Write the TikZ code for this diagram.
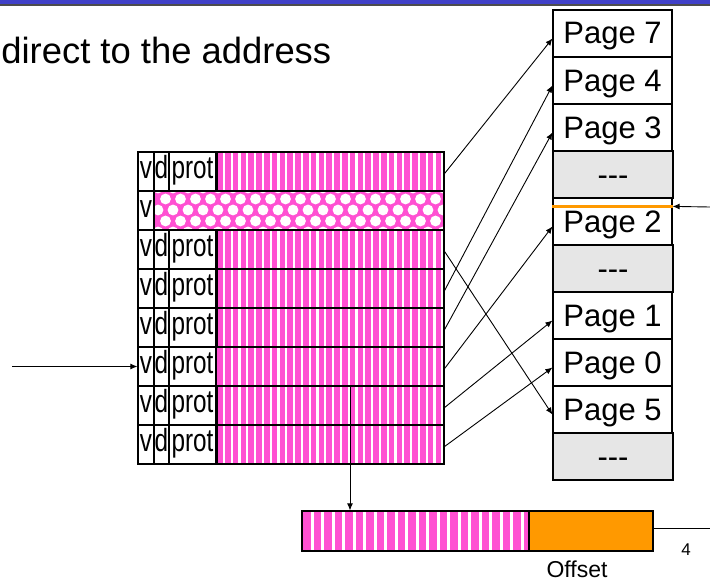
\documentclass[tikz,border=0pt]{standalone}
\usepackage{fontspec}
\setmainfont{Liberation Sans}
\newfontfamily\narrowfont[FakeStretch=0.76]{Liberation Sans}
\usetikzlibrary{calc,arrows.meta}
\definecolor{pagepink}{RGB}{255, 80, 210}
\definecolor{offorange}{RGB}{255, 153, 0}
\definecolor{freegray}{RGB}{230, 230, 230}
\definecolor{barblue}{RGB}{64, 64, 200}

\begin{document}
\begin{tikzpicture}[x=0.5pt, y=-0.5pt,
    cell/.style={draw, line width=0.6pt, minimum height=19.5pt, inner sep=0pt, text height=11.5pt, text depth=4.5pt, font=\narrowfont\fontsize{16}{16}\selectfont},
    stripes/.style 2 args={path picture={
        \foreach \s in {0,#1,...,120}
          \fill[pagepink] ($(path picture bounding box.south west)+(\s pt+0.6pt,-1pt)$) rectangle ++(#2,40pt);}},
    holes/.style={fill=pagepink, path picture={
        \foreach \r [evaluate=\r as \sh using {mod(\r,2)*3.75}] in {0,...,4}
          \foreach \c in {0,...,20}
            \fill[white] ($(path picture bounding box.south west)+(\c*7.5pt+\sh pt+2pt,\r*5.5pt-1pt)$) circle (2.7pt);}},
    pageframe/.style={draw, line width=0.6pt, minimum width=59.5pt, minimum height=23.5pt, inner sep=0pt, text height=11pt, text depth=0.5pt, font=\fontsize{15.5}{15.5}\selectfont},
    freeframe/.style={pageframe, fill=freegray, minimum width=60pt},
    link/.style={-{Latex[length=3.5pt,width=3pt]}, line width=0.45pt}]
  \useasboundingbox (0,0) rectangle (710,583);
  \fill[barblue] (0,0) rectangle (710,4);
  \draw[line width=0.8pt, black!70] (0,5) -- (710,5);
  \node[anchor=base west, inner sep=0pt, font=\fontsize{18.2}{18.2}\selectfont] (title) at (1,64) {direct to the address};

  % page table
  \foreach \i in {0,2,3,4,5,6,7} {
    \node[cell, minimum width=8pt] (v\i) at (146,171.5+39*\i) {v};
    \node[cell, minimum width=7.5pt] (d\i) at (161.5,171.5+39*\i) {d};
    \node[cell, minimum width=23.5pt] (prot\i) at (192.5,171.5+39*\i) {prot};
    \node[cell, minimum width=114pt, stripes={3.9}{2.75pt}] (pte\i) at (330,171.5+39*\i) {};
  }
  \node[cell, minimum width=8pt] (v1) at (146,210.5) {v};
  \node[cell, minimum width=145pt, holes] (pte1) at (299,210.5) {};
  \foreach \i in {0,2,3,4,6,7}
    \draw[line width=1.3pt] (prot\i.north east) -- (prot\i.south east);

  % physical frames
  \foreach \k/\n in {0/7,1/4,2/3,4/2,6/1,7/0,8/5}
    \node[pageframe] (pg\n) at (612.5,33.5+47*\k) {Page \n};
  \foreach \k/\j in {3/0,5/1,9/2}
    \node[freeframe] (free\j) at (613,33.5+47*\k) {-{}-{}-};
  \draw[offorange, line width=1.5pt] ([yshift=-4.5pt]pg2.north west) -- ([yshift=-4.5pt]pg2.north east);
  \coordinate (faddr) at (710,207);
  \draw[link] (faddr) -- ([yshift=-4.5pt]pg2.north east);

  \foreach \p/\f in {0/7,2/5,3/4,4/3,5/2,6/1,7/0}
    \draw[link] ([yshift=-1pt]pte\p.east) -- ([yshift=-2.5pt]pg\f.west);
  \coordinate (vaddr) at (12,366.5);
  \draw[link] (vaddr) -- (v5.west);

  % physical address
  \node[cell, minimum width=113.5pt, minimum height=20pt, stripes={5.25}{3.75pt}] (vpn) at (415.5,531) {};
  \node[cell, minimum width=62pt, minimum height=20pt, fill=offorange] (offs) at (591,531) {};
  \node[font=\fontsize{11.5}{11.5}\selectfont] (offlab) at (577,569) {Offset};
  \node[font=\fontsize{8.5}{8.5}\selectfont] (num) at (686,550) {4};
  \coordinate (idx) at (350,386);
  \draw[link] (idx) -- (idx |- vpn.north);
  \coordinate (rend) at (710,528);
  \draw[line width=0.5pt] ([yshift=1.5pt]offs.east) -- (rend);
\end{tikzpicture}
\end{document}
